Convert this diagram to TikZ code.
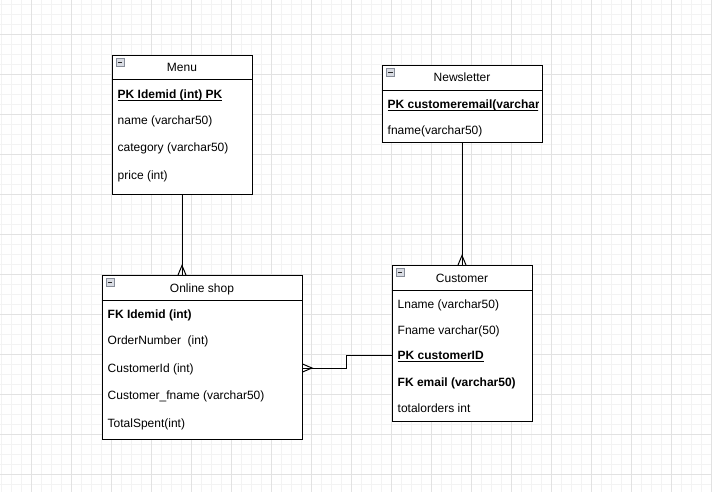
\documentclass[tikz,border=0pt]{standalone}
\usepackage{fontspec}
\setmainfont{Liberation Sans}
\usetikzlibrary{calc}

\definecolor{gridminor}{HTML}{F3F3F3}
\definecolor{gridmajor}{HTML}{E2E2E2}
\definecolor{iconfill}{HTML}{D9DCE3}
\definecolor{iconedge}{HTML}{868C98}

% underlined key field
\newcommand\keyline[1]{\setbox0\hbox{#1}\rlap{\rule[-2.4pt]{\wd0}{1pt}}\box0}

\tikzset{
  entity/.style={draw=black, line width=1pt, fill=white, anchor=north west,
                 inner sep=0pt, rectangle},
  title/.style={anchor=base, inner sep=0pt, font=\fontsize{12pt}{14pt}\selectfont},
  field/.style={anchor=base west, inner sep=0pt, text height=8.6pt, text depth=0pt,
                font=\fontsize{12pt}{14pt}\selectfont},
  icon/.style={draw=iconedge, fill=iconfill, line width=0.8pt, minimum size=8pt,
               inner sep=0pt, rectangle,
               path picture={\draw[line width=1.2pt, black!85]
                 ([xshift=-2.2pt]path picture bounding box.center) --
                 ([xshift=2.2pt]path picture bounding box.center);}},
  link/.style={draw=black, line width=1pt},
  gminor/.style={draw=gridminor, line width=1pt},
  gmajor/.style={draw=gridmajor, line width=1pt}
}

\begin{document}
\begin{tikzpicture}[x=1pt, y=-1pt]
\useasboundingbox[fill=white] (0,0) rectangle (712,492);

% background grid
\foreach \x in {1.5,11.5,...,711.5} \draw[gminor] (\x,0) -- (\x,492);
\foreach \y in {4.5,14.5,...,491.5} \draw[gminor] (0,\y) -- (712,\y);
\foreach \x in {31.5,71.5,...,711.5} \draw[gmajor] (\x,0) -- (\x,492);
\foreach \y in {34.5,74.5,...,491.5} \draw[gmajor] (0,\y) -- (712,\y);

% ---- Menu ----
\node[entity, minimum width=140pt, minimum height=138.5pt] (menu) at (111.5,55) {};
\draw[link] ([yshift=-25pt]menu.north west) -- ([yshift=-25pt]menu.north east);
\node[icon] (menuicon) at ([shift={(8.5pt,-7.5pt)}]menu.north west) {};
\node[title] (menutitle) at ([yshift=-17pt]menu.north) {Menu};
\node[field] (m1) at (117.5,98.6) {\bfseries\keyline{PK Idemid (int) PK}};
\node[field] (m2) at (117.5,124.3) {name (varchar50)};
\node[field] (m3) at (117.5,152) {category (varchar50)};
\node[field] (m4) at (117.5,179.3) {price (int)};

% ---- Newsletter ----
\node[entity, minimum width=160pt, minimum height=77.5pt] (nl) at (381.5,65) {};
\draw[link] ([yshift=-25.5pt]nl.north west) -- ([yshift=-25.5pt]nl.north east);
\node[icon] (nlicon) at ([shift={(9pt,-7.5pt)}]nl.north west) {};
\node[title] (nltitle) at ([yshift=-17pt]nl.north) {Newsletter};
\begin{scope}
  \clip (nl.north west) rectangle ([xshift=-4.5pt]nl.south east);
  \node[field] (n1) at (387.5,108.6) {\bfseries\keyline{PK customeremail(varchar50)}};
\end{scope}
\node[field] (n2) at (387.5,134.3) {fname(varchar50)};

% ---- Online shop ----
\node[entity, minimum width=200pt, minimum height=163.5pt] (shop) at (101.5,275) {};
\draw[link] ([yshift=-25pt]shop.north west) -- ([yshift=-25pt]shop.north east);
\node[icon] (shopicon) at ([shift={(8.5pt,-7.5pt)}]shop.north west) {};
\node[title] (shoptitle) at ([yshift=-17pt]shop.north) {Online shop};
\node[field] (s1) at (107.5,318.6) {\bfseries FK Idemid (int)};
\node[field] (s2) at (107.5,344.3) {OrderNumber\ \ (int)};
\node[field] (s3) at (107.5,372.3) {CustomerId (int)};
\node[field] (s4) at (107.5,399.3) {Customer\_fname (varchar50)};
\node[field] (s5) at (107.5,427.6) {TotalSpent(int)};

% ---- Customer ----
\node[entity, minimum width=140pt, minimum height=155.5pt] (cust) at (391.5,265) {};
\draw[link] ([yshift=-25pt]cust.north west) -- ([yshift=-25pt]cust.north east);
\node[icon] (custicon) at ([shift={(8.5pt,-7.5pt)}]cust.north west) {};
\node[title] (custtitle) at ([yshift=-17pt]cust.north) {Customer};
\node[field] (c1) at (397.5,308.6) {Lname (varchar50)};
\node[field] (c2) at (397.5,334.3) {Fname varchar(50)};
\node[field] (c3) at (397.5,359.6) {\bfseries\keyline{PK customerID}};
\node[field] (c4) at (397.5,386) {\bfseries FK email (varchar50)};
\node[field] (c5) at (397.5,412) {totalorders int};

% ---- relationships (crow's foot at the "many" end) ----
% Menu -> Online shop
\coordinate (f1) at (menu.south |- shop.north);
\draw[link] (menu.south) -- (f1);
\draw[link] ([xshift=-4pt]f1) -- ([yshift=9.5pt]f1) -- ([xshift=4pt]f1);

% Newsletter -> Customer
\coordinate (f2) at (nl.south |- cust.north);
\draw[link] (nl.south) -- (f2);
\draw[link] ([xshift=-4pt]f2) -- ([yshift=9.5pt]f2) -- ([xshift=4pt]f2);

% Customer -> Online shop (elbow)
\coordinate (f3) at (shop.east |- s3.center);
\draw[link] (cust.west |- c3.center) -- ++(-45pt,0) |- (f3);
\draw[link] ([yshift=4pt]f3) -- ([xshift=9.5pt]f3) -- ([yshift=-4pt]f3);
\end{tikzpicture}
\end{document}
